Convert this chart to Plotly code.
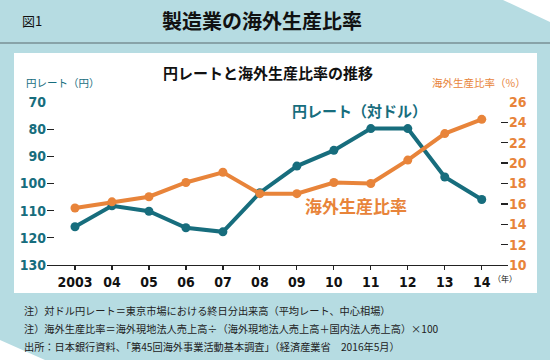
import plotly.graph_objects as go

years = ["2003", "04", "05", "06", "07", "08", "09", "10", "11", "12", "13", "14"]
yen_rate = [115.9, 108.2, 110.2, 116.3, 117.8, 103.4, 93.6, 87.8, 79.8, 79.8, 97.6, 105.9]
overseas_ratio = [15.6, 16.2, 16.7, 18.1, 19.1, 17.0, 17.0, 18.1, 18.0, 20.3, 22.9, 24.3]
left_ticks = [70, 80, 90, 100, 110, 120, 130]
right_ticks = [10, 12, 14, 16, 18, 20, 22, 24, 26]

TEAL = "#176d7d"
ORANGE = "#e8843a"
BLUE_BG = "#b6dce2"
W, H = 550, 360
L, R, T, B = 47, 42, 102, 95
PW, PH = W - L - R, H - T - B

def px(x):
    return (x - L) / PW

def py(y):
    return (H - B - y) / PH

xi = list(range(len(years)))
NUM_FONT = "Liberation Sans Narrow, DejaVu Sans Condensed, Arial Narrow, sans-serif"
JP = "Noto Sans CJK JP"

fig = go.Figure()
fig.add_trace(go.Scatter(x=xi, y=yen_rate, mode="lines+markers", yaxis="y",
                         line=dict(color=TEAL, width=4), marker=dict(size=9, color=TEAL),
                         cliponaxis=False, showlegend=False, hoverinfo="skip"))
fig.add_trace(go.Scatter(x=xi, y=overseas_ratio, mode="lines+markers", yaxis="y2",
                         line=dict(color=ORANGE, width=4), marker=dict(size=9, color=ORANGE),
                         cliponaxis=False, showlegend=False, hoverinfo="skip"))

shapes = []
shapes.append(dict(type="path", xref="paper", yref="paper", layer="below",
                   path=f"M {px(0)},{py(0)} L {px(503)},{py(0)} L {px(550)},{py(22)} L {px(550)},{py(360)} "
                        f"L {px(45)},{py(360)} L {px(0)},{py(340)} Z",
                   fillcolor=BLUE_BG, line=dict(width=0)))
shapes.append(dict(type="line", xref="paper", yref="paper", layer="below",
                   x0=px(0), x1=px(550), y0=py(43), y1=py(43), line=dict(color="#5a6a6e", width=1)))
shapes.append(dict(type="rect", xref="paper", yref="paper", layer="below",
                   x0=px(14), x1=px(537), y0=py(53), y1=py(293),
                   fillcolor="white", line=dict(width=0)))

annotations = [
    dict(text="図1", x=px(20), y=py(20), xanchor="left", yanchor="middle",
         font=dict(family=JP, size=13, color="#111")),
    dict(text="<b>製造業の海外生産比率</b>", x=px(262), y=py(20), xanchor="center", yanchor="middle",
         font=dict(family=JP, size=20, color="#111")),
    dict(text="<b>円レートと海外生産比率の推移</b>", x=px(161), y=py(73), xanchor="left", yanchor="middle",
         font=dict(family=JP, size=15, color="#111")),
    dict(text="円レート（円）", x=px(24), y=py(82), xanchor="left", yanchor="middle",
         font=dict(family=JP, size=10.5, color=TEAL)),
    dict(text="海外生産比率（%）", x=px(528), y=py(82), xanchor="right", yanchor="middle",
         font=dict(family=JP, size=10.5, color=ORANGE)),
    dict(text="<b>円レート（対ドル）</b>", x=px(290), y=py(110), xanchor="left", yanchor="middle",
         font=dict(family=JP, size=15, color=TEAL)),
    dict(text="<b>海外生産比率</b>", x=px(303), y=py(205), xanchor="left", yanchor="middle",
         font=dict(family=JP, size=17, color=ORANGE)),
    dict(text="（年）", x=px(491), y=py(278), xanchor="left", yanchor="middle",
         font=dict(family=JP, size=8, color="#111")),
    dict(text="注）対ドル円レート＝東京市場における終日分出来高（平均レート、中心相場）",
         x=px(22), y=py(310), xanchor="left", yanchor="middle",
         font=dict(family=JP, size=10.2, color="#222")),
    dict(text="注）海外生産比率＝海外現地法人売上高÷（海外現地法人売上高＋国内法人売上高）×100",
         x=px(22), y=py(328), xanchor="left", yanchor="middle",
         font=dict(family=JP, size=10.2, color="#222")),
    dict(text="出所：日本銀行資料、「第45回海外事業活動基本調査」（経済産業省　2016年5月）",
         x=px(22), y=py(346), xanchor="left", yanchor="middle",
         font=dict(family=JP, size=10.2, color="#222")),
]
for a in annotations:
    a.update(xref="paper", yref="paper", showarrow=False)

fig.update_layout(
    width=W, height=H, margin=dict(l=L, r=R, t=T, b=B, autoexpand=False),
    paper_bgcolor="white", plot_bgcolor="rgba(0,0,0,0)",
    shapes=shapes, annotations=annotations, showlegend=False, hovermode=False,
    xaxis=dict(range=[-0.757, 11.71], tickmode="array", tickvals=xi, ticktext=[f"<b>{y}</b>" for y in years],
               automargin=False,
               showgrid=False, zeroline=False, showline=True, linecolor="#222", linewidth=1.3,
               ticks="outside", ticklen=4, tickcolor="#222", tickwidth=1.2,
               tickfont=dict(family=NUM_FONT, size=14, color="#111")),
    yaxis=dict(range=[130, 70], tickmode="array", tickvals=left_ticks,
               ticktext=[f"<b>{v}</b>" for v in left_ticks], automargin=False,
               showgrid=False, zeroline=False, showline=False,
               ticks="inside", ticklen=7, tickcolor="#222", tickwidth=1.3,
               tickfont=dict(family=NUM_FONT, size=14, color=TEAL)),
    yaxis2=dict(range=[10, 26], overlaying="y", side="right", tickmode="array", tickvals=right_ticks,
                ticktext=[f"<b>{v}</b>" for v in right_ticks], automargin=False,
                showgrid=False, zeroline=False, showline=False,
                ticks="inside", ticklen=7, tickcolor="#222", tickwidth=1.3,
                tickfont=dict(family=NUM_FONT, size=14, color=ORANGE)),
)

fig.write_html("out.html", config={"displayModeBar": False, "staticPlot": True},
               post_script="document.body.style.margin='0';document.body.style.padding='0';")
